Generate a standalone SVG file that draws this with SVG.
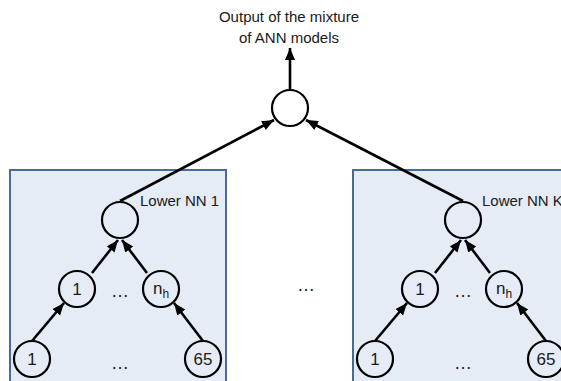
<svg xmlns="http://www.w3.org/2000/svg" width="561" height="381" viewBox="0 0 561 381">
<defs>
<marker id="ah" markerUnits="userSpaceOnUse" markerWidth="14" markerHeight="12" refX="12" refY="5" orient="auto">
<path d="M0,0 L12,5 L0,10 Z" fill="#000"/>
</marker>
<style>
.box{fill:#E6ECF5;stroke:#4A6A9A;stroke-width:2}
.n{fill:none;stroke:#000;stroke-width:2.2}
.e{stroke:#000;stroke-width:2.6;fill:none;marker-end:url(#ah)}
text{font-family:"Liberation Sans",Arial,sans-serif;font-size:17px;fill:#1a1a1a}
.c{text-anchor:middle}
.lab{font-size:15px}
.t{font-size:15px;text-anchor:middle}
.d{font-size:18px;text-anchor:middle}
</style>
</defs>
<rect id="boxL" class="box" x="10" y="170" width="216" height="220"/>
<rect id="boxK" class="box" x="353" y="170" width="216" height="220"/>
<text class="t" x="289" y="22">Output of the mixture</text>
<text class="t" x="289" y="43">of ANN models</text>
<g id="connectors">
<line class="e" x1="290" y1="89" x2="290" y2="48"/>
<line class="e" x1="120" y1="201" x2="274" y2="120"/>
<line class="e" x1="463" y1="201" x2="306" y2="120"/>
<line class="e" x1="92" y1="273" x2="118" y2="240"/>
<line class="e" x1="147" y1="273" x2="122" y2="240"/>
<line class="e" x1="32" y1="341" x2="64" y2="303"/>
<line class="e" x1="203" y1="341" x2="174" y2="303"/>
<line class="e" x1="435" y1="273" x2="461" y2="240"/>
<line class="e" x1="490" y1="273" x2="465" y2="240"/>
<line class="e" x1="375" y1="341" x2="407" y2="303"/>
<line class="e" x1="546" y1="341" x2="517" y2="303"/>
</g>
<g id="top"><circle class="n" cx="290" cy="108" r="18"/></g>
<g id="L_out"><circle class="n" cx="120" cy="220" r="18"/><text class="lab" x="140" y="206">Lower NN 1</text></g>
<g id="L_h1"><circle class="n" cx="77" cy="289" r="18"/><text class="c" x="77" y="295">1</text></g>
<g id="L_hn"><circle class="n" cx="161" cy="289" r="18"/><text class="c" x="161" y="294">n<tspan font-size="12" dy="4">h</tspan></text></g>
<g id="L_i1"><circle class="n" cx="32" cy="359" r="18"/><text class="c" x="32" y="365">1</text></g>
<g id="L_i65"><circle class="n" cx="203" cy="359" r="18"/><text class="c" x="203" y="365">65</text></g>
<text class="d" x="120" y="297">…</text>
<text class="d" x="120" y="369">…</text>
<text class="d" x="306" y="291">…</text>
<g id="K_out"><circle class="n" cx="463" cy="220" r="18"/><text class="lab" x="482" y="206">Lower NN K</text></g>
<g id="K_h1"><circle class="n" cx="420" cy="289" r="18"/><text class="c" x="420" y="295">1</text></g>
<g id="K_hn"><circle class="n" cx="504" cy="289" r="18"/><text class="c" x="504" y="294">n<tspan font-size="12" dy="4">h</tspan></text></g>
<g id="K_i1"><circle class="n" cx="375" cy="359" r="18"/><text class="c" x="375" y="365">1</text></g>
<g id="K_i65"><circle class="n" cx="546" cy="359" r="18"/><text class="c" x="546" y="365">65</text></g>
<text class="d" x="463" y="297">…</text>
<text class="d" x="463" y="369">…</text>
</svg>
